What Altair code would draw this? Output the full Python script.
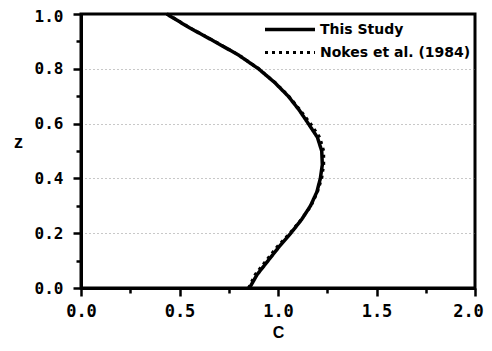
import altair as alt
import pandas as pd

z_vals = [0.0, 0.05, 0.1, 0.15, 0.2, 0.25, 0.3, 0.35, 0.4, 0.45, 0.5,
          0.55, 0.6, 0.65, 0.7, 0.75, 0.8, 0.85, 0.9, 0.95, 1.0]
c_study = [0.855, 0.895, 0.95, 1.005, 1.065, 1.12, 1.165, 1.197, 1.215, 1.225, 1.222,
           1.20, 1.154, 1.107, 1.052, 0.983, 0.901, 0.80, 0.677, 0.55, 0.435]
c_nokes = [0.850, 0.885, 0.94, 0.995, 1.06, 1.118, 1.168, 1.20, 1.222, 1.232, 1.232,
           1.212, 1.165, 1.112, 1.055, 0.985, 0.903, 0.802, 0.679, 0.552, 0.437]
series_names = ["This Study", "Nokes et al. (1984)"]

rows = []
for z, c in zip(z_vals, c_study):
    rows.append({"C": c, "z": z, "series": series_names[0]})
for z, c in zip(z_vals, c_nokes):
    rows.append({"C": c, "z": z, "series": series_names[1]})
df = pd.DataFrame(rows)

x_ticks = [0.0, 0.25, 0.5, 0.75, 1.0, 1.25, 1.5, 1.75, 2.0]
y_ticks = [0.0, 0.1, 0.2, 0.3, 0.4, 0.5, 0.6, 0.7, 0.8, 0.9, 1.0]

x_major = "abs(datum.value*2 - round(datum.value*2)) < 0.001"
y_major = "abs(datum.value*5 - round(datum.value*5)) < 0.001"

lab_font = "DejaVu Sans Mono"

chart = alt.Chart(df).mark_line(color="black").encode(
    x=alt.X("C:Q", scale=alt.Scale(domain=[0, 2], nice=False),
            axis=alt.Axis(values=x_ticks, title="C", labelFlush=False, labelOverlap=False,
                          labelExpr=f"{x_major} ? format(datum.value, '.1f') : ''",
                          tickSize={"condition": {"test": x_major, "value": 8}, "value": 5},
                          labelOffset={"condition": {"test": "datum.value > 1.9", "value": -7}, "value": 0},
                          labelPadding=7, titlePadding=5, titleFontSize=16,
                          grid=False)),
    y=alt.Y("z:Q", scale=alt.Scale(domain=[0, 1], nice=False),
            axis=alt.Axis(values=y_ticks, title="z", titleAngle=0, labelFlush=False,
                          labelOverlap=False, labelFontSize=16,
                          labelExpr=f"{y_major} ? format(datum.value, '.1f') : ''",
                          tickSize={"condition": {"test": y_major, "value": 8}, "value": 5},
                          labelOffset={"condition": {"test": "datum.value > 0.95", "value": 2}, "value": 0},
                          labelPadding=10, titlePadding=16,
                          grid=True,
                          gridOpacity={"condition": {"test": f"{y_major} && datum.value > 0.05 && datum.value < 0.95", "value": 0.8}, "value": 0})),
    order="z:Q",
    detail="series:N",
    strokeDash=alt.StrokeDash("series:N",
                              scale=alt.Scale(domain=series_names, range=[[1, 0], [3, 4]]),
                              legend=alt.Legend(title=None, orient="top-right", offset=0,
                                                symbolType="stroke", symbolSize=2500,
                                                symbolStrokeWidth=3, symbolStrokeColor="black",
                                                clipHeight=23, labelFont="DejaVu Sans",
                                                labelFontWeight="bold", labelFontSize=14,
                                                labelColor="black", labelOffset=3,
                                                padding=4, rowPadding=0)),
    strokeWidth=alt.StrokeWidth("series:N",
                                scale=alt.Scale(domain=series_names, range=[3.5, 3]),
                                legend=None),
).properties(
    width=394, height=274,
    autosize=alt.AutoSizeParams(type="none"),
    padding={"left": 73, "top": 6, "right": 9, "bottom": 55},
).configure_view(
    stroke="black", strokeWidth=3
).configure_axis(
    domainColor="black", domainWidth=3,
    tickColor="black", tickWidth=2.5,
    labelFont=lab_font, labelFontWeight="bold", labelFontSize=17, labelColor="black",
    titleFont="Liberation Sans", titleFontWeight="bold", titleFontSize=18, titleColor="black",
    gridColor="#777777", gridDash=[1, 3], gridWidth=1,
)

chart.save("out.html", embed_options={"renderer": "svg", "actions": False})
